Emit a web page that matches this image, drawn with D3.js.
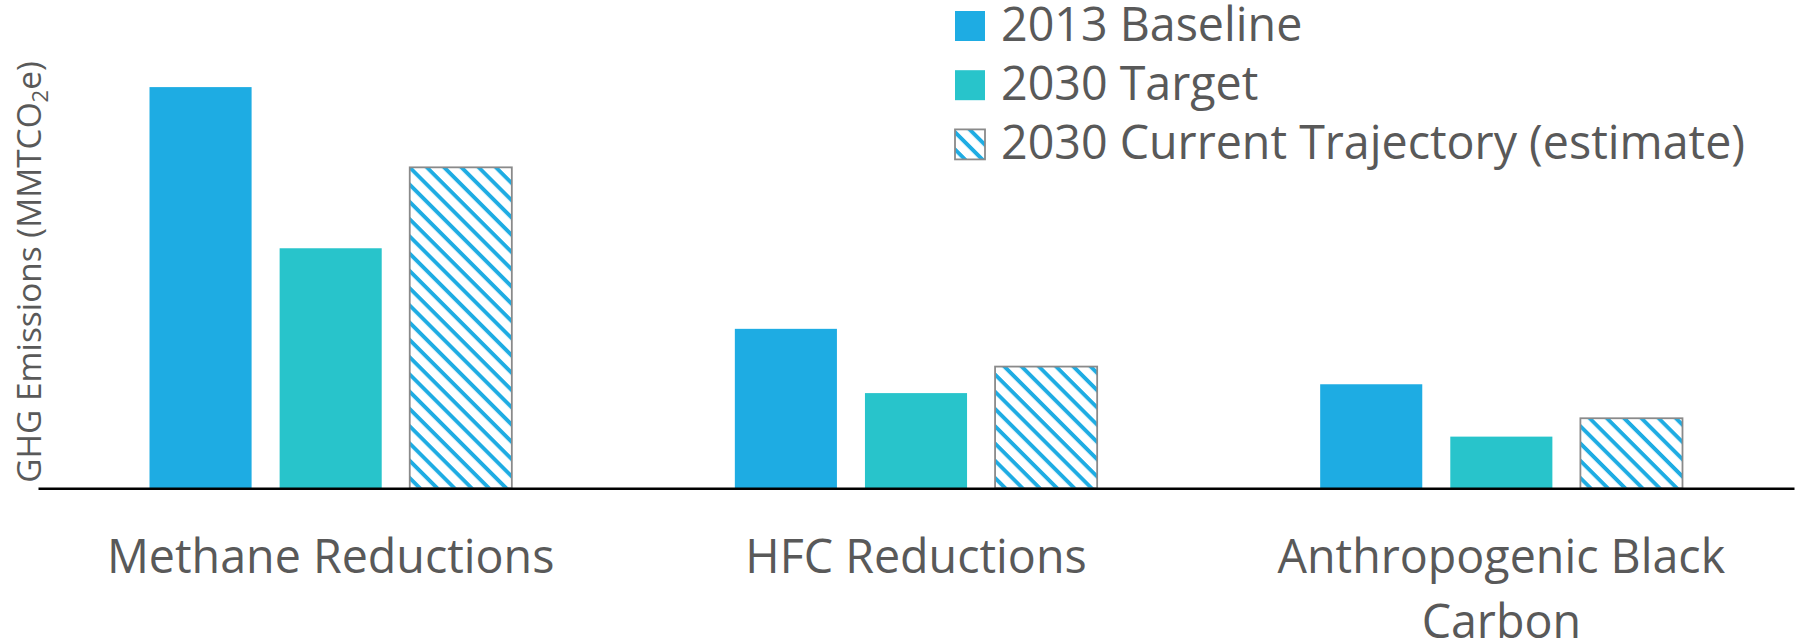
<!DOCTYPE html>
<html>
<head>
<meta charset="utf-8">
<script src="https://cdn.jsdelivr.net/npm/d3@7"></script>
<style>
  html, body { margin: 0; padding: 0; background: #fff; }
  svg { display: block; font-family: "Open Sans", "Noto Sans", sans-serif; }
</style>
</head>
<body>
<svg id="chart" width="1806" height="644"></svg>
<script>
// Short-lived climate pollutant emissions, MMTCO2e
const categories = ["Methane Reductions", "HFC Reductions", "Anthropogenic Black Carbon"];
const categoryLines = [["Methane Reductions"], ["HFC Reductions"], ["Anthropogenic Black", "Carbon"]];
const seriesNames = ["2013 Baseline", "2030 Target", "2030 Current Trajectory (estimate)"];
const baseline2013 = [118, 46.9, 30.6];
const target2030 = [70.6, 28.0, 15.2];
const trajectory2030 = [94.4, 35.8, 20.6];

const seriesValues = [baseline2013, target2030, trajectory2030];
const rows = categories.map((c, i) => ({
  category: c,
  values: seriesNames.map((s, j) => ({ series: s, value: seriesValues[j][i] }))
}));

const plot = { left: 38, right: 1794, bottom: 488.3 };
const textColor = "#595959";
const colors = {
  "2013 Baseline": "#1EACE3",
  "2030 Target": "#28C4CB",
  "2030 Current Trajectory (estimate)": "url(#hatch)"
};

const svg = d3.select("#chart");

// Diagonal stripe fill for the trajectory series
const defs = svg.append("defs");
const pat = defs.append("pattern")
  .attr("id", "hatch")
  .attr("patternUnits", "userSpaceOnUse")
  .attr("width", 12.2)
  .attr("height", 12.2)
  .attr("patternTransform", "rotate(45)");
pat.append("rect").attr("width", 12.2).attr("height", 12.2).attr("fill", "#fff");
pat.append("rect").attr("y", 0).attr("width", 12.2).attr("height", 3.9).attr("fill", "#1EACE3");

const x0 = d3.scaleBand()
  .domain(categories)
  .range([plot.left, plot.right])
  .paddingInner(0)
  .paddingOuter(0);

const x1 = d3.scaleBand()
  .domain(seriesNames)
  .range([0, x0.bandwidth()])
  .paddingInner(28 / 130)
  .paddingOuter(0.857);

const y = d3.scaleLinear()
  .domain([0, 140])
  .range([plot.bottom, plot.bottom - 140 * 3.4]);

// Bars
const groups = svg.append("g").selectAll("g")
  .data(rows)
  .join("g")
  .attr("transform", d => `translate(${x0(d.category)},0)`);

groups.selectAll("rect")
  .data(d => d.values)
  .join("rect")
  .attr("x", d => x1(d.series))
  .attr("y", d => y(d.value))
  .attr("width", x1.bandwidth())
  .attr("height", d => y(0) - y(d.value))
  .attr("fill", d => colors[d.series])
  .attr("stroke", d => d.series === seriesNames[2] ? "#8a8a8a" : null)
  .attr("stroke-width", d => d.series === seriesNames[2] ? 1.8 : null);

// Category axis
const xAxis = d3.axisBottom(x0).tickSize(0).tickFormat("");
const axisG = svg.append("g")
  .attr("transform", `translate(0,${plot.bottom})`)
  .call(xAxis);
axisG.select(".domain").attr("stroke", "#000").attr("stroke-width", 2.6);

// Category labels (wrapped)
const labelG = svg.append("g");
categories.forEach((c, i) => {
  const cx = x0(c) + x0.bandwidth() / 2;
  const t = labelG.append("text")
    .attr("x", cx)
    .attr("y", 573.3)
    .attr("text-anchor", "middle")
    .attr("fill", textColor)
    .style("font-size", "46.6px");
  categoryLines[i].forEach((line, k) => {
    t.append("tspan")
      .attr("x", cx)
      .attr("dy", k === 0 ? 0 : 65)
      .text(line);
  });
});

// Y axis title
const yTitle = svg.append("text")
  .attr("transform", "translate(41,272) rotate(-90)")
  .attr("text-anchor", "middle")
  .attr("fill", textColor)
  .style("font-size", "33.4px");
yTitle.append("tspan").text("GHG Emissions (MMTCO");
yTitle.append("tspan").attr("dy", 7).style("font-size", "22px").text("2");
yTitle.append("tspan").attr("dy", -7).text("e)");

// Legend
const legend = svg.append("g").attr("transform", "translate(955,11)");
const items = legend.selectAll("g")
  .data(seriesNames)
  .join("g")
  .attr("transform", (d, i) => `translate(0,${i * 59.2})`);
items.append("rect")
  .attr("width", 30)
  .attr("height", 30)
  .attr("fill", d => colors[d])
  .attr("stroke", d => d === seriesNames[2] ? "#8a8a8a" : null)
  .attr("stroke-width", d => d === seriesNames[2] ? 1.8 : null);
items.append("text")
  .attr("x", 46)
  .attr("y", 29.7)
  .attr("fill", textColor)
  .style("font-size", "46.6px")
  .text(d => d);
</script>
</body>
</html>
